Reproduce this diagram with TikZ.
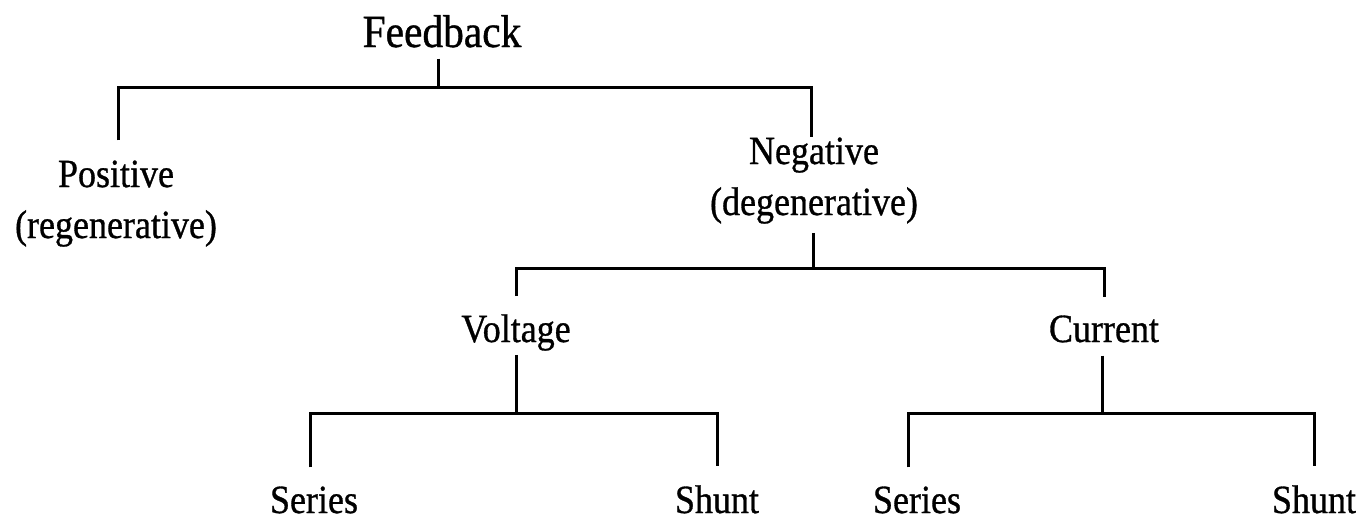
\documentclass[tikz,border=0pt]{standalone}
\usepackage{fontspec}
\setmainfont{Liberation Serif}[FakeStretch=0.9, FakeBold=0.8]
\begin{document}
\begin{tikzpicture}[x=1pt,y=-1pt,
  lbl/.style={font=\fontsize{40}{51}\selectfont, inner sep=0pt, anchor=base, align=center},
  conn/.style={line width=3pt, line join=miter, line cap=butt}]
\useasboundingbox[fill=white] (0,0) rectangle (1370,520);
% nodes (multi-line nodes: base = last line's baseline)
\node[lbl, font=\fontsize{46}{51}\selectfont] (fb) at (442,47) {Feedback};
\node[lbl] (pos) at (116,238) {Positive\\(regenerative)};
\node[lbl] (neg) at (814,215) {Negative\\(degenerative)};
\node[lbl] (volt) at (516,342) {Voltage};
\node[lbl] (cur) at (1104,342) {Current};
\node[lbl] (ser1) at (314,513) {Series};
\node[lbl] (shu1) at (717,513) {Shunt};
\node[lbl] (ser2) at (917,513) {Series};
\node[lbl] (shu2) at (1314,513) {Shunt};
% junctions
\coordinate (j1) at (438,87);
\coordinate (j2) at (813,268);
\coordinate (j3) at (516,413);
\coordinate (j4) at (1102,413);
% level 1
\draw[conn, shorten <=11pt] (fb.south -| j1) -- (j1);
\draw[conn, shorten <=20pt] ([xshift=2pt]pos.north) -- ([xshift=2pt]pos.north |- j1) -- ([xshift=-3pt]neg.north |- j1) -- ([xshift=-3pt]neg.north);
% level 2
\draw[conn, shorten <=9pt] (neg.south -| j2) -- (j2);
\draw[conn, shorten <=18pt, shorten >=18pt] (volt.north) -- (volt.north |- j2) -- (cur.north |- j2) -- (cur.north);
% level 3
\draw[conn, shorten <=4pt] (volt.south -| j3) -- (j3);
\draw[conn, shorten <=19pt, shorten >=19pt] ([xshift=-4pt]ser1.north) -- ([xshift=-4pt]ser1.north |- j3) -- (shu1.north |- j3) -- (shu1.north);
\draw[conn, shorten <=13pt] (cur.south -| j4) -- (j4);
\draw[conn, shorten <=19pt, shorten >=19pt] ([xshift=-9pt]ser2.north) -- ([xshift=-9pt]ser2.north |- j4) -- (shu2.north |- j4) -- (shu2.north);
\end{tikzpicture}
\end{document}
